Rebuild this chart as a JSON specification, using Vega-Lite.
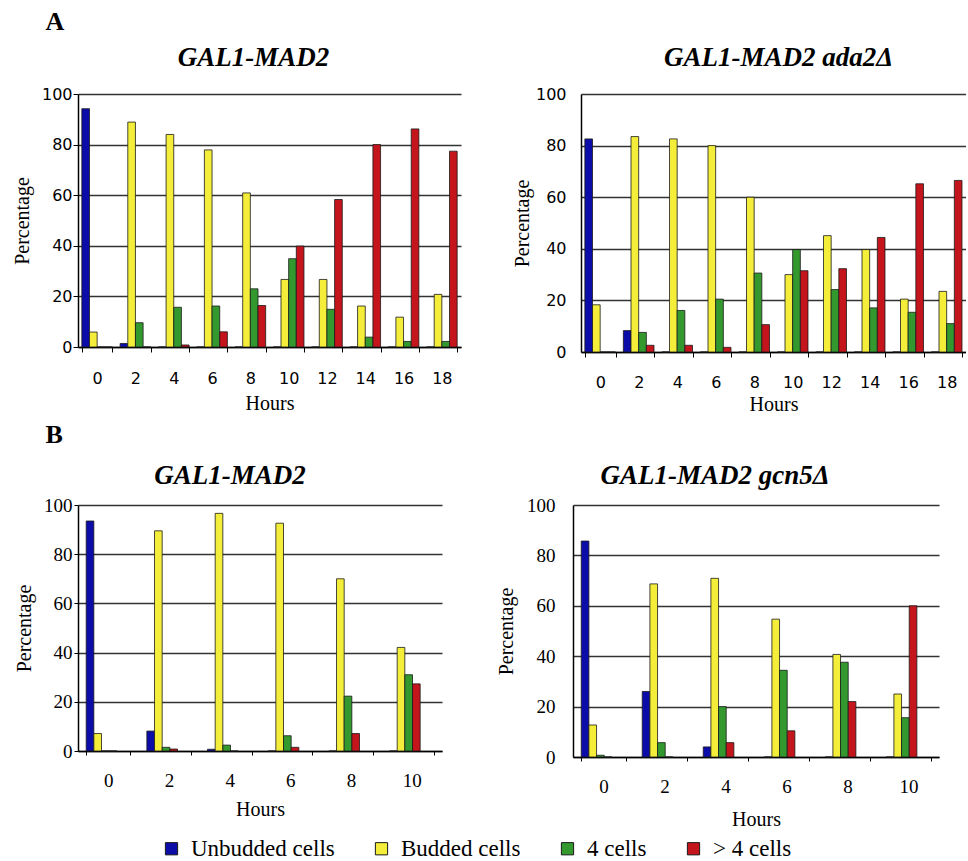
{
  "$schema": "https://vega.github.io/schema/vega-lite/v6.json",
  "padding": {"left": 12, "top": 9, "right": 0, "bottom": 0},
  "background": "white",
  "config": {"font": "Liberation Serif", "view": {"stroke": null}},
  "data": {"values": [
    {"p":"A1","h":0,"s":"Unbudded cells","v":94.2},{"p":"A1","h":0,"s":"Budded cells","v":5.9},{"p":"A1","h":0,"s":"4 cells","v":0},{"p":"A1","h":0,"s":"> 4 cells","v":0},
    {"p":"A1","h":2,"s":"Unbudded cells","v":1.4},{"p":"A1","h":2,"s":"Budded cells","v":88.9},{"p":"A1","h":2,"s":"4 cells","v":9.6},{"p":"A1","h":2,"s":"> 4 cells","v":0},
    {"p":"A1","h":4,"s":"Unbudded cells","v":0},{"p":"A1","h":4,"s":"Budded cells","v":84},{"p":"A1","h":4,"s":"4 cells","v":15.7},{"p":"A1","h":4,"s":"> 4 cells","v":0.8},
    {"p":"A1","h":6,"s":"Unbudded cells","v":0},{"p":"A1","h":6,"s":"Budded cells","v":77.9},{"p":"A1","h":6,"s":"4 cells","v":16.2},{"p":"A1","h":6,"s":"> 4 cells","v":6},
    {"p":"A1","h":8,"s":"Unbudded cells","v":0},{"p":"A1","h":8,"s":"Budded cells","v":60.9},{"p":"A1","h":8,"s":"4 cells","v":23},{"p":"A1","h":8,"s":"> 4 cells","v":16.4},
    {"p":"A1","h":10,"s":"Unbudded cells","v":0},{"p":"A1","h":10,"s":"Budded cells","v":26.7},{"p":"A1","h":10,"s":"4 cells","v":34.9},{"p":"A1","h":10,"s":"> 4 cells","v":39.9},
    {"p":"A1","h":12,"s":"Unbudded cells","v":0},{"p":"A1","h":12,"s":"Budded cells","v":26.7},{"p":"A1","h":12,"s":"4 cells","v":14.9},{"p":"A1","h":12,"s":"> 4 cells","v":58.3},
    {"p":"A1","h":14,"s":"Unbudded cells","v":0},{"p":"A1","h":14,"s":"Budded cells","v":16.2},{"p":"A1","h":14,"s":"4 cells","v":3.9},{"p":"A1","h":14,"s":"> 4 cells","v":80},
    {"p":"A1","h":16,"s":"Unbudded cells","v":0},{"p":"A1","h":16,"s":"Budded cells","v":11.8},{"p":"A1","h":16,"s":"4 cells","v":2.2},{"p":"A1","h":16,"s":"> 4 cells","v":86.2},
    {"p":"A1","h":18,"s":"Unbudded cells","v":0},{"p":"A1","h":18,"s":"Budded cells","v":20.8},{"p":"A1","h":18,"s":"4 cells","v":2.2},{"p":"A1","h":18,"s":"> 4 cells","v":77.4},
    {"p":"A2","h":0,"s":"Unbudded cells","v":82.6},{"p":"A2","h":0,"s":"Budded cells","v":18.3},{"p":"A2","h":0,"s":"4 cells","v":0},{"p":"A2","h":0,"s":"> 4 cells","v":0},
    {"p":"A2","h":2,"s":"Unbudded cells","v":8.3},{"p":"A2","h":2,"s":"Budded cells","v":83.5},{"p":"A2","h":2,"s":"4 cells","v":7.6},{"p":"A2","h":2,"s":"> 4 cells","v":2.6},
    {"p":"A2","h":4,"s":"Unbudded cells","v":0},{"p":"A2","h":4,"s":"Budded cells","v":82.6},{"p":"A2","h":4,"s":"4 cells","v":16.1},{"p":"A2","h":4,"s":"> 4 cells","v":2.6},
    {"p":"A2","h":6,"s":"Unbudded cells","v":0},{"p":"A2","h":6,"s":"Budded cells","v":80},{"p":"A2","h":6,"s":"4 cells","v":20.5},{"p":"A2","h":6,"s":"> 4 cells","v":1.8},
    {"p":"A2","h":8,"s":"Unbudded cells","v":0},{"p":"A2","h":8,"s":"Budded cells","v":60},{"p":"A2","h":8,"s":"4 cells","v":30.6},{"p":"A2","h":8,"s":"> 4 cells","v":10.6},
    {"p":"A2","h":10,"s":"Unbudded cells","v":0},{"p":"A2","h":10,"s":"Budded cells","v":30},{"p":"A2","h":10,"s":"4 cells","v":39.7},{"p":"A2","h":10,"s":"> 4 cells","v":31.5},
    {"p":"A2","h":12,"s":"Unbudded cells","v":0},{"p":"A2","h":12,"s":"Budded cells","v":45.1},{"p":"A2","h":12,"s":"4 cells","v":24.2},{"p":"A2","h":12,"s":"> 4 cells","v":32.3},
    {"p":"A2","h":14,"s":"Unbudded cells","v":0},{"p":"A2","h":14,"s":"Budded cells","v":39.7},{"p":"A2","h":14,"s":"4 cells","v":17.1},{"p":"A2","h":14,"s":"> 4 cells","v":44.4},
    {"p":"A2","h":16,"s":"Unbudded cells","v":0},{"p":"A2","h":16,"s":"Budded cells","v":20.5},{"p":"A2","h":16,"s":"4 cells","v":15.4},{"p":"A2","h":16,"s":"> 4 cells","v":65.2},
    {"p":"A2","h":18,"s":"Unbudded cells","v":0},{"p":"A2","h":18,"s":"Budded cells","v":23.5},{"p":"A2","h":18,"s":"4 cells","v":11},{"p":"A2","h":18,"s":"> 4 cells","v":66.5},
    {"p":"B1","h":0,"s":"Unbudded cells","v":93.5},{"p":"B1","h":0,"s":"Budded cells","v":7.1},{"p":"B1","h":0,"s":"4 cells","v":0},{"p":"B1","h":0,"s":"> 4 cells","v":0},
    {"p":"B1","h":2,"s":"Unbudded cells","v":8.1},{"p":"B1","h":2,"s":"Budded cells","v":89.5},{"p":"B1","h":2,"s":"4 cells","v":1.5},{"p":"B1","h":2,"s":"> 4 cells","v":0.8},
    {"p":"B1","h":4,"s":"Unbudded cells","v":0.7},{"p":"B1","h":4,"s":"Budded cells","v":96.6},{"p":"B1","h":4,"s":"4 cells","v":2.4},{"p":"B1","h":4,"s":"> 4 cells","v":0},
    {"p":"B1","h":6,"s":"Unbudded cells","v":0},{"p":"B1","h":6,"s":"Budded cells","v":92.6},{"p":"B1","h":6,"s":"4 cells","v":6.2},{"p":"B1","h":6,"s":"> 4 cells","v":1.5},
    {"p":"B1","h":8,"s":"Unbudded cells","v":0},{"p":"B1","h":8,"s":"Budded cells","v":70},{"p":"B1","h":8,"s":"4 cells","v":22.3},{"p":"B1","h":8,"s":"> 4 cells","v":7.1},
    {"p":"B1","h":10,"s":"Unbudded cells","v":0},{"p":"B1","h":10,"s":"Budded cells","v":42.1},{"p":"B1","h":10,"s":"4 cells","v":31},{"p":"B1","h":10,"s":"> 4 cells","v":27.3},
    {"p":"B2","h":0,"s":"Unbudded cells","v":85.7},{"p":"B2","h":0,"s":"Budded cells","v":12.7},{"p":"B2","h":0,"s":"4 cells","v":0.7},{"p":"B2","h":0,"s":"> 4 cells","v":0},
    {"p":"B2","h":2,"s":"Unbudded cells","v":26},{"p":"B2","h":2,"s":"Budded cells","v":68.7},{"p":"B2","h":2,"s":"4 cells","v":5.7},{"p":"B2","h":2,"s":"> 4 cells","v":0},
    {"p":"B2","h":4,"s":"Unbudded cells","v":4},{"p":"B2","h":4,"s":"Budded cells","v":70.9},{"p":"B2","h":4,"s":"4 cells","v":20},{"p":"B2","h":4,"s":"> 4 cells","v":5.7},
    {"p":"B2","h":6,"s":"Unbudded cells","v":0},{"p":"B2","h":6,"s":"Budded cells","v":54.7},{"p":"B2","h":6,"s":"4 cells","v":34.4},{"p":"B2","h":6,"s":"> 4 cells","v":10.4},
    {"p":"B2","h":8,"s":"Unbudded cells","v":0},{"p":"B2","h":8,"s":"Budded cells","v":40.7},{"p":"B2","h":8,"s":"4 cells","v":37.6},{"p":"B2","h":8,"s":"> 4 cells","v":22},
    {"p":"B2","h":10,"s":"Unbudded cells","v":0},{"p":"B2","h":10,"s":"Budded cells","v":25},{"p":"B2","h":10,"s":"4 cells","v":15.6},{"p":"B2","h":10,"s":"> 4 cells","v":60}
  ]},
  "spacing": 8,
  "vconcat": [
    {
      "title": {"text": "A", "anchor": "start", "fontSize": 26, "fontWeight": "bold", "dx": 33, "offset": 9, "color": "black"},
      "spacing": 51,
      "hconcat": [
        {
          "width": 383, "height": 253,
          "title": {"text": "GAL1-MAD2", "fontStyle": "italic", "fontWeight": "bold", "fontSize": 27, "dx": -16, "offset": 14, "color": "black"},
          "transform": [{"filter": "datum.p === 'A1'"}],
          "mark": {"type": "bar", "stroke": "#1a1a1a", "strokeWidth": 0.8},
          "encoding": {
            "x": {"field": "h", "type": "ordinal", "scale": {"paddingInner": 0.2, "paddingOuter": 0.1},
              "axis": {"title": "Hours", "labelAngle": 0, "labelFont": "DejaVu Sans", "labelFontSize": 16, "labelColor": "black", "tickSize": 5, "labelPadding": 18, "titleFontSize": 20, "titleFontWeight": "normal", "titleColor": "black", "titlePadding": 7, "domainColor": "black", "domainWidth": 1.5, "tickColor": "black", "tickBand": "extent", "grid": false}},
            "y": {"field": "v", "type": "quantitative", "scale": {"domain": [0, 100]},
              "axis": {"title": "Percentage", "values": [0, 20, 40, 60, 80, 100], "labelFont": "DejaVu Sans", "labelFontSize": 16, "labelColor": "black", "tickSize": 5, "labelPadding": 1, "titleFontSize": 20, "titleFontWeight": "normal", "titleColor": "black", "titlePadding": 9, "gridColor": "#333", "gridWidth": 1.5, "gridOpacity": 1, "domainColor": "black", "domainWidth": 1.5, "tickColor": "black"}},
            "xOffset": {"field": "s", "sort": ["Unbudded cells", "Budded cells", "4 cells", "> 4 cells"]},
            "color": {"field": "s", "scale": {"domain": ["Unbudded cells", "Budded cells", "4 cells", "> 4 cells"], "range": ["#0c0ca8", "#f4ee3a", "#33992f", "#c4141c"]},
              "legend": {"orient": "none", "legendX": 82, "legendY": 743, "direction": "horizontal", "columns": 4, "title": null, "labelFont": "Liberation Serif", "labelFontSize": 23, "labelColor": "black", "symbolType": "square", "symbolSize": 150, "symbolStrokeColor": "black", "symbolStrokeWidth": 1, "columnPadding": 35, "labelOffset": 8, "labelLimit": 300}}
          }
        },
        {
          "width": 385, "height": 258,
          "title": {"text": "GAL1-MAD2 ada2Δ", "fontStyle": "italic", "fontWeight": "bold", "fontSize": 27, "dx": 5, "offset": 14, "color": "black"},
          "transform": [{"filter": "datum.p === 'A2'"}],
          "mark": {"type": "bar", "stroke": "#1a1a1a", "strokeWidth": 0.8},
          "encoding": {
            "x": {"field": "h", "type": "ordinal", "scale": {"paddingInner": 0.2, "paddingOuter": 0.1},
              "axis": {"title": "Hours", "labelAngle": 0, "labelFont": "DejaVu Sans", "labelFontSize": 16, "labelColor": "black", "tickSize": 5, "labelPadding": 17, "titleFontSize": 20, "titleFontWeight": "normal", "titleColor": "black", "titlePadding": 4, "domainColor": "black", "domainWidth": 1.5, "tickColor": "black", "tickBand": "extent", "grid": false}},
            "y": {"field": "v", "type": "quantitative", "scale": {"domain": [0, 100]},
              "axis": {"title": "Percentage", "values": [0, 20, 40, 60, 80, 100], "labelFont": "DejaVu Sans", "labelFontSize": 16, "labelColor": "black", "ticks": false, "labelPadding": 15, "titleFontSize": 20, "titleFontWeight": "normal", "titleColor": "black", "titlePadding": 3, "gridColor": "#333", "gridWidth": 1.5, "gridOpacity": 1, "domainColor": "black", "domainWidth": 1.5}},
            "xOffset": {"field": "s", "sort": ["Unbudded cells", "Budded cells", "4 cells", "> 4 cells"]},
            "color": {"field": "s", "scale": {"domain": ["Unbudded cells", "Budded cells", "4 cells", "> 4 cells"], "range": ["#0c0ca8", "#f4ee3a", "#33992f", "#c4141c"]}}
          }
        }
      ]
    },
    {
      "title": {"text": "B", "anchor": "start", "fontSize": 26, "fontWeight": "bold", "dx": 31, "offset": 14, "color": "black"},
      "spacing": 54,
      "hconcat": [
        {
          "width": 364, "height": 246,
          "title": {"text": "GAL1-MAD2", "fontStyle": "italic", "fontWeight": "bold", "fontSize": 27, "dx": -30, "offset": 6, "color": "black"},
          "transform": [{"filter": "datum.p === 'B1'"}],
          "mark": {"type": "bar", "stroke": "#1a1a1a", "strokeWidth": 0.8},
          "encoding": {
            "x": {"field": "h", "type": "ordinal", "scale": {"paddingInner": 0.27, "paddingOuter": 0.135},
              "axis": {"title": "Hours", "labelAngle": 0, "labelFontSize": 19, "labelColor": "black", "tickSize": 4, "labelPadding": 16, "titleFontSize": 20, "titleFontWeight": "normal", "titleColor": "black", "titlePadding": 9, "domainColor": "black", "domainWidth": 1.5, "tickColor": "black", "tickBand": "extent", "grid": false}},
            "y": {"field": "v", "type": "quantitative", "scale": {"domain": [0, 100]},
              "axis": {"title": "Percentage", "values": [0, 20, 40, 60, 80, 100], "labelFontSize": 19, "labelColor": "black", "tickSize": 4, "labelPadding": 2, "titleFontSize": 20, "titleFontWeight": "normal", "titleColor": "black", "titlePadding": 9, "gridColor": "#333", "gridWidth": 1.5, "gridOpacity": 1, "domainColor": "black", "domainWidth": 1.5, "tickColor": "black"}},
            "xOffset": {"field": "s", "sort": ["Unbudded cells", "Budded cells", "4 cells", "> 4 cells"]},
            "color": {"field": "s", "scale": {"domain": ["Unbudded cells", "Budded cells", "4 cells", "> 4 cells"], "range": ["#0c0ca8", "#f4ee3a", "#33992f", "#c4141c"]}}
          }
        },
        {
          "width": 366, "height": 252,
          "title": {"text": "GAL1-MAD2 gcn5Δ", "fontStyle": "italic", "fontWeight": "bold", "fontSize": 27, "dx": -41, "offset": 6, "color": "black"},
          "transform": [{"filter": "datum.p === 'B2'"}],
          "mark": {"type": "bar", "stroke": "#1a1a1a", "strokeWidth": 0.8},
          "encoding": {
            "x": {"field": "h", "type": "ordinal", "scale": {"paddingInner": 0.27, "paddingOuter": 0.135},
              "axis": {"title": "Hours", "labelAngle": 0, "labelFontSize": 19, "labelColor": "black", "tickSize": 4, "labelPadding": 16, "titleFontSize": 20, "titleFontWeight": "normal", "titleColor": "black", "titlePadding": 13, "domainColor": "black", "domainWidth": 1.5, "tickColor": "black", "tickBand": "extent", "grid": false}},
            "y": {"field": "v", "type": "quantitative", "scale": {"domain": [0, 100]},
              "axis": {"title": "Percentage", "values": [0, 20, 40, 60, 80, 100], "labelFontSize": 19, "labelColor": "black", "ticks": false, "labelPadding": 18, "titleFontSize": 20, "titleFontWeight": "normal", "titleColor": "black", "titlePadding": 10, "gridColor": "#333", "gridWidth": 1.5, "gridOpacity": 1, "domainColor": "black", "domainWidth": 1.5}},
            "xOffset": {"field": "s", "sort": ["Unbudded cells", "Budded cells", "4 cells", "> 4 cells"]},
            "color": {"field": "s", "scale": {"domain": ["Unbudded cells", "Budded cells", "4 cells", "> 4 cells"], "range": ["#0c0ca8", "#f4ee3a", "#33992f", "#c4141c"]}}
          }
        }
      ]
    }
  ]
}
